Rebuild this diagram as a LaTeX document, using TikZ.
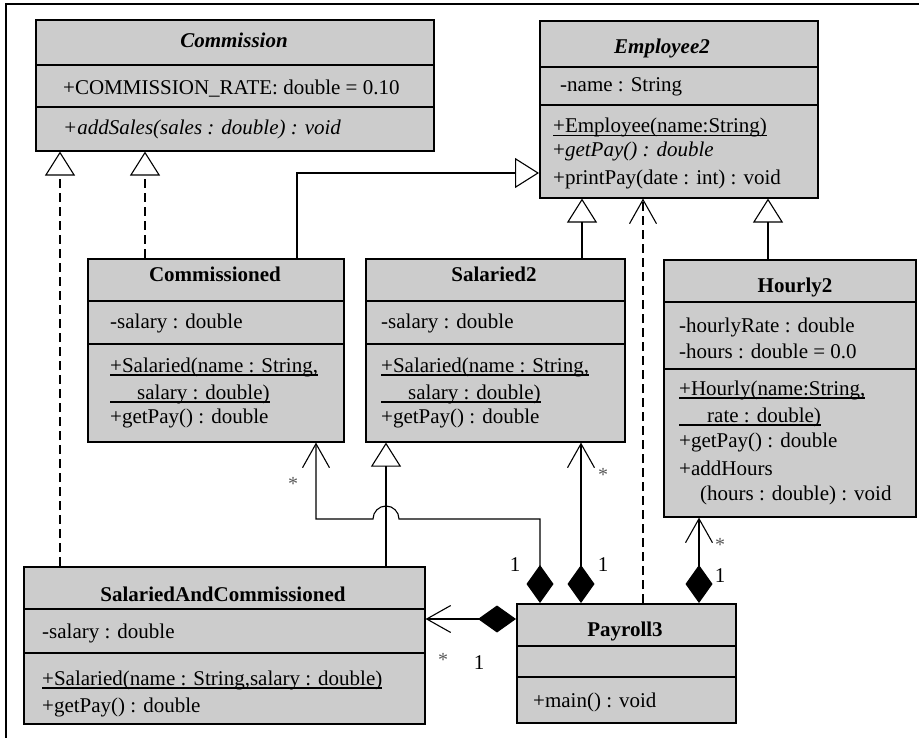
\documentclass[tikz,border=0pt]{standalone}
\usepackage{fontspec}
\setmainfont{Liberation Serif}
\usetikzlibrary{arrows.meta, calc}

% underline at a fixed depth, through the descenders
\newcommand{\umlul}[1]{\setbox0\hbox{#1}\rlap{\rule[-3.5pt]{\wd0}{1.2pt}}\box0}

\tikzset{
  classbox/.style={rectangle, draw=black, line width=1.6pt, fill=black!20, anchor=north west, inner sep=0pt},
  divider/.style={line width=1.4pt},
  member/.style={anchor=base west, inner sep=0pt, font=\fontsize{21}{26}\selectfont},
  classname/.style={anchor=base, inner sep=0pt, font=\fontsize{21}{26}\selectfont\bfseries},
  abstractname/.style={anchor=base, inner sep=0pt, font=\fontsize{21}{26}\selectfont\bfseries\itshape},
  mult/.style={inner sep=0pt, font=\fontsize{21}{21}\selectfont},
  star/.style={inner sep=0pt, text=black!65, font=\fontsize{20}{20}\selectfont},
  inherit/.style={line width=1.1pt, -{Triangle[open, length=24pt, width=30pt]}},
  realize/.style={line width=1.1pt, dash pattern=on 9pt off 5pt, -{Triangle[open, length=24pt, width=30pt]}},
  depend/.style={line width=1.1pt, dash pattern=on 9pt off 5pt, -{Straight Barb[length=24pt, width=27pt]}},
  compose/.style={line width=1.1pt, arrows={Diamond[length=38pt, width=27pt]-Straight Barb[length=24pt, width=27pt]}}
}

\begin{document}
\begin{tikzpicture}[x=1pt, y=-1pt]
  \useasboundingbox (0,0) rectangle (919,738);
  \draw[line width=2pt] (6,738) -- (6,4) -- (919,4);

  % Klassen
  \node[classbox, minimum width=398pt, minimum height=131pt] (commission) at (35,19) {};
  \node[classbox, minimum width=278pt, minimum height=177pt] (employee) at (539,20) {};
  \node[classbox, minimum width=256pt, minimum height=183pt] (commissioned) at (87,258) {};
  \node[classbox, minimum width=259pt, minimum height=183pt] (salaried) at (365,258) {};
  \node[classbox, minimum width=252pt, minimum height=257pt] (hourly) at (663,259) {};
  \node[classbox, minimum width=401pt, minimum height=157pt] (sal_comm) at (23,566) {};
  \node[classbox, minimum width=219pt, minimum height=119pt] (payroll) at (516,603) {};

  % Trennlinien der Abschnitte
  \foreach \n/\d in {commission/46pt, commission/88pt, employee/47pt, employee/85pt,
                     commissioned/43pt, commissioned/86pt, salaried/43pt, salaried/86pt,
                     hourly/43pt, hourly/110pt, sal_comm/43pt, sal_comm/87pt,
                     payroll/43pt, payroll/74pt}
    \draw[divider] ([yshift=-\d]\n.north west) -- ([yshift=-\d]\n.north east);

  % Commission
  \node[abstractname] (commission_name) at (234,48) {Commission};
  \node[member] (commission_attr) at (63,95) {+COMMISSION\_RATE: double = 0.10};
  \node[member] (commission_op) at (63,135) {\itshape +addSales(sales : double) : void};

  % Employee2
  \node[abstractname] (employee_name) at (662,54) {Employee2};
  \node[member] (employee_attr) at (560,92) {-name : String};
  \node[member] (employee_op1) at (553,133) {\umlul{+Employee(name:String)}};
  \node[member] (employee_op2) at (553,157) {+\textit{getPay() : double}};
  \node[member] (employee_op3) at (553,185) {+printPay(date : int) : void};

  % Commissioned
  \node[classname] (commissioned_name) at (215,282) {Commissioned};
  \node[member] (commissioned_attr) at (110,328) {-salary : double};
  \node[member] (commissioned_op1) at (110,372) {\umlul{+Salaried(name : String,}};
  \node[member] (commissioned_op1b) at (110,399) {\umlul{\hspace*{27pt}salary : double)}};
  \node[member] (commissioned_op2) at (110,423) {+getPay() : double};

  % Salaried2
  \node[classname] (salaried_name) at (494,282) {Salaried2};
  \node[member] (salaried_attr) at (381,328) {-salary : double};
  \node[member] (salaried_op1) at (381,372) {\umlul{+Salaried(name : String,}};
  \node[member] (salaried_op1b) at (381,399) {\umlul{\hspace*{27pt}salary : double)}};
  \node[member] (salaried_op2) at (381,423) {+getPay() : double};

  % Hourly2
  \node[classname] (hourly_name) at (795,293) {Hourly2};
  \node[member] (hourly_attr1) at (679,333) {-hourlyRate : double};
  \node[member] (hourly_attr2) at (679,359) {-hours : double = 0.0};
  \node[member] (hourly_op1) at (679,395) {\umlul{+Hourly(name:String,}};
  \node[member] (hourly_op1b) at (679,422) {\umlul{\hspace*{28pt}rate : double)}};
  \node[member] (hourly_op2) at (679,447) {+getPay() : double};
  \node[member] (hourly_op3) at (679,475) {+addHours};
  \node[member] (hourly_op3b) at (700,500) {(hours : double) : void};

  % SalariedAndCommissioned
  \node[classname] (sal_comm_name) at (223,601) {SalariedAndCommissioned};
  \node[member] (sal_comm_attr) at (42,638) {-salary : double};
  \node[member] (sal_comm_op1) at (42,685) {\umlul{+Salaried(name : String,salary : double)}};
  \node[member] (sal_comm_op2) at (42,712) {+getPay() : double};

  % Payroll3
  \node[classname] (payroll_name) at (625,636) {Payroll3};
  \node[member] (payroll_op) at (533,707) {+main() : void};

  % Vererbung und Realisierung
  \draw[realize] ([xshift=37pt]sal_comm.north west) -- ([xshift=37pt]sal_comm.north west |- commission.south);
  \draw[realize] ([xshift=58pt]commissioned.north west) -- ([xshift=58pt]commissioned.north west |- commission.south);
  \draw[inherit] ([xshift=210pt]commissioned.north west) |- ([yshift=-153pt]employee.north west);
  \draw[inherit] ([xshift=217pt]salaried.north west) -- ([xshift=217pt]salaried.north west |- employee.south);
  \draw[inherit] ([xshift=105pt]hourly.north west) -- ([xshift=105pt]hourly.north west |- employee.south);
  \draw[inherit] ([xshift=363pt]sal_comm.north west) -- ([xshift=363pt]sal_comm.north west |- salaried.south);
  \draw[depend] ([xshift=127pt]payroll.north west) -- ([xshift=127pt]payroll.north west |- employee.south);

  % Kompositionen von Payroll3
  \coordinate (hop) at (386,519);
  \draw[compose] ([xshift=24pt]payroll.north west) |- ([xshift=13pt]hop)
    arc[start angle=0, end angle=-180, radius=13] -| ([xshift=229pt]commissioned.south west);
  \draw[compose] ([xshift=65pt]payroll.north west) -- ([xshift=65pt]payroll.north west |- salaried.south);
  \draw[compose] ([xshift=183pt]payroll.north west) -- ([xshift=183pt]payroll.north west |- hourly.south);
  \coordinate (pl) at ([yshift=-16pt]payroll.north west);
  \draw[compose] (pl) -- (pl -| sal_comm.east);

  % Multiplizitaeten
  \node[star] (m_commissioned) at (293,484) {*};
  \node[mult] (m_payroll_a) at (515,565) {1};
  \node[star] (m_salaried) at (603,475) {*};
  \node[mult] (m_payroll_b) at (603,565) {1};
  \node[star] (m_hourly) at (720,545) {*};
  \node[mult] (m_payroll_c) at (720,576) {1};
  \node[star] (m_sal_comm) at (443,660) {*};
  \node[mult] (m_payroll_d) at (479,663) {1};
\end{tikzpicture}
\end{document}
